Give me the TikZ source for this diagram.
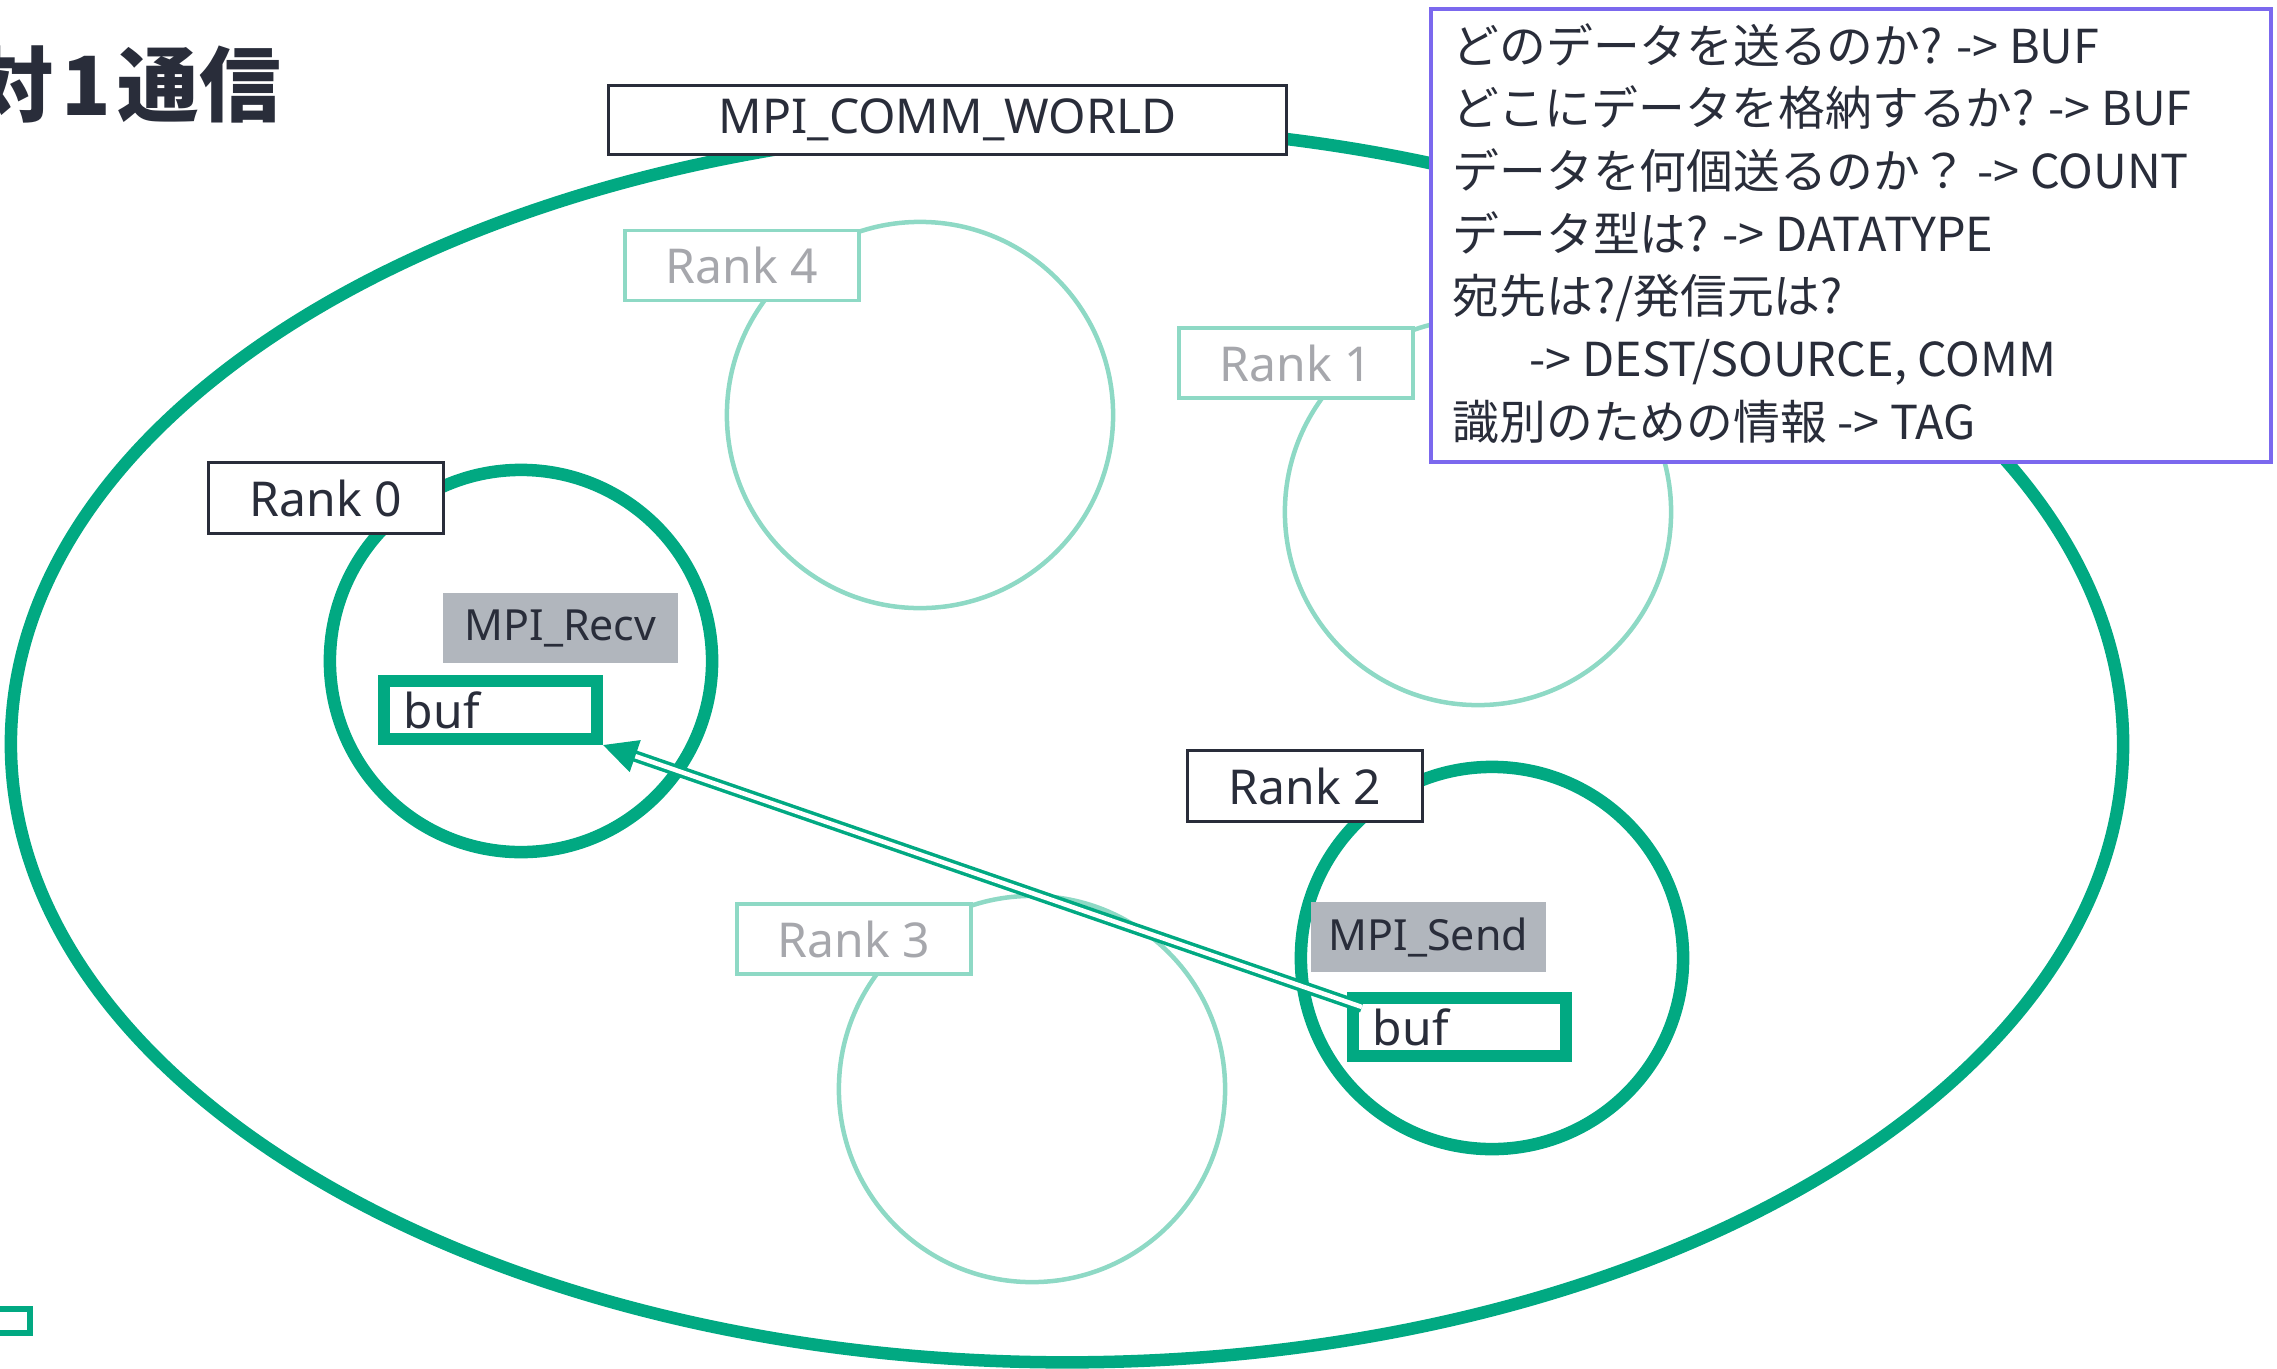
\documentclass[tikz,border=0pt]{standalone}
\usepackage{fontspec}
\setmainfont{Noto Sans}
\newfontfamily\jp{Noto Sans CJK JP}
\usetikzlibrary{arrows.meta,calc,shapes.geometric}
\definecolor{hpegreen}{RGB}{1,169,130}
\definecolor{lightteal}{RGB}{142,217,197}
\definecolor{darktext}{RGB}{41,45,58}
\definecolor{fadetext}{RGB}{166,167,172}
\definecolor{greybox}{RGB}{177,182,189}
\definecolor{violetb}{RGB}{123,104,238}
\begin{document}
\begin{tikzpicture}[x=0.01cm,y=-0.01cm,
  lbl/.style={font=\fontsize{13.66}{16}\selectfont, text=darktext, inner sep=0},
  rankbox/.style={lbl, draw=darktext, fill=white, line width=0.03cm, minimum width=2.35cm, minimum height=0.71cm},
  fadebox/.style={lbl, draw=lightteal, text=fadetext, fill=white, line width=0.035cm, minimum width=2.34cm, minimum height=0.70cm},
  thickcirc/.style={draw=hpegreen, line width=0.125cm, circle, minimum size=3.82cm, inner sep=0},
  thincirc/.style={draw=lightteal, line width=0.045cm, circle, minimum size=3.86cm, inner sep=0},
  callbox/.style={lbl, font=\fontsize{12.2}{15}\selectfont, fill=greybox, minimum width=2.35cm, minimum height=0.70cm},
  bufbox/.style={lbl, draw=hpegreen, fill=white, line width=0.12cm, minimum width=2.13cm, minimum height=0.58cm, inner xsep=0.2cm, text width=1.73cm, align=left},
  infoline/.style={font=\jp\fontsize{13.3}{16}\selectfont, text=darktext, inner sep=0, anchor=base west},
  flow/.style={hpegreen, line width=0.035cm, double=white, double distance=0.045cm, -{Triangle[length=0.34cm,width=0.33cm]}}
]
\useasboundingbox (0,0) rectangle (2277,1369);

% communicator
\node[ellipse, draw=hpegreen, line width=0.125cm, minimum width=21.11cm, minimum height=12.36cm, inner sep=0] (world) at (1067,744) {};
\node[rankbox, minimum width=6.77cm, minimum height=0.68cm] (worldlbl) at (947.5,120) {MPI\_COMM\_WORLD};

% faded ranks
\node[thincirc] (c4) at (920,415) {};
\node[fadebox] (r4) at (742,265.5) {Rank 4};
\node[thincirc] (c1) at (1478,512) {};
\node[fadebox] (r1) at (1296,363) {Rank 1};
\node[thincirc] (c3) at (1032,1089) {};
\node[fadebox] (r3) at (854,939) {Rank 3};

% active ranks
\node[thickcirc] (c0) at (521,661) {};
\node[rankbox] (r0) at (326,498) {Rank 0};
\node[thickcirc] (c2) at (1492,958) {};
\node[rankbox] (r2) at (1305,786) {Rank 2};

\node[callbox] (recv) at (560.5,628) {MPI\_Recv};
\node[bufbox] (rbuf) at (490.5,710) {buf};
\node[callbox] (send) at (1428.5,937) {MPI\_Send};
\node[bufbox] (sbuf) at (1459.5,1027) {buf};

\coordinate (tail) at ($(sbuf.north west)+(15,15)$);
\draw[flow] (tail) -- (rbuf.south east);

% info box
\node[draw=violetb, fill=white, line width=0.04cm, minimum width=8.40cm, minimum height=4.53cm, inner sep=0] (info) at (1851,235.5) {};
\node[infoline] (l1) at (1452,63) {どのデータを送るのか? -> BUF};
\node[infoline] (l2) at (1452,125.7) {どこにデータを格納するか? -> BUF};
\node[infoline] (l3) at (1452,188.4) {データを何個送るのか？ -> COUNT};
\node[infoline] (l4) at (1452,251) {データ型は? -> DATATYPE};
\node[infoline] (l5) at (1452,313.8) {宛先は?/発信元は?};
\node[infoline] (l6) at (1529,376.5) {-> DEST/SOURCE, COMM};
\node[infoline] (l7) at (1452,439) {識別のための情報 -> TAG};

% title and corner mark
\node[anchor=base west, inner sep=0, font=\jp\bfseries\fontsize{23.2}{28}\selectfont, text=darktext] (title) at (-28,115) {対\kern0.07cm 1\kern0.07cm 通信};
\node[draw=hpegreen, line width=0.06cm, minimum width=0.5cm, minimum height=0.24cm, inner sep=0] (mark) at (5,1321) {};
\end{tikzpicture}
\end{document}
